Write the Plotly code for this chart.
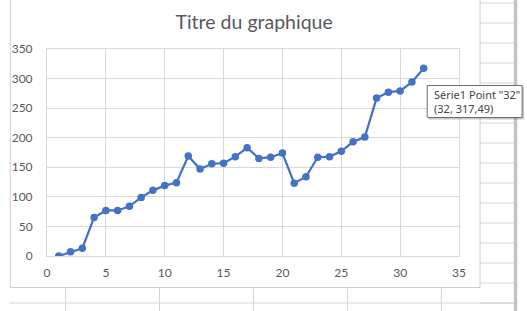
import plotly.graph_objects as go

# data
x_values = list(range(1, 33))
y_values = [0, 7, 13, 65, 77, 77, 84, 99, 111, 119, 124, 169, 147, 156, 157, 168,
            183, 165, 167, 174, 123, 134, 167, 168, 177, 193, 201, 267, 277, 279, 294, 317.49]
series_name = "Série1"
title_text = "Titre du graphique"
tooltip_lines = ['Série1 Point "32"', "(32, 317,49)"]

W, H = 527, 311
L, R, T, B = 38, 68, 49, 55
PW, PH = W - L - R, H - T - B


def px(xp):
    return (xp - L) / PW


def py(yp):
    return (H - B - yp) / PH


SHEET = "#d4d4d4"
shapes = []
# spreadsheet gridlines (right column rows)
for yy in range(3, 311, 20):
    shapes.append(dict(type="line", xref="paper", yref="paper", x0=px(480), x1=px(515),
                       y0=py(yy), y1=py(yy), line=dict(color=SHEET, width=1), layer="below"))
# below chart
shapes.append(dict(type="line", xref="paper", yref="paper", x0=px(0), x1=px(515),
                   y0=py(303), y1=py(303), line=dict(color=SHEET, width=1), layer="below"))
for xx in [57, 153, 249, 345, 441]:
    shapes.append(dict(type="line", xref="paper", yref="paper", x0=px(xx), x1=px(xx),
                       y0=py(287), y1=py(311), line=dict(color=SHEET, width=1), layer="below"))
# thick separator at right
shapes.append(dict(type="rect", xref="paper", yref="paper", x0=px(515), x1=px(518.5),
                   y0=py(0), y1=py(311), fillcolor="#c3c3c3", line=dict(width=0), layer="below"))
# chart box
shapes.append(dict(type="rect", xref="paper", yref="paper", x0=px(0.5), x1=px(480.5),
                   y0=py(-2), y1=py(287.5), fillcolor="white",
                   line=dict(color="#d0d0d0", width=1), layer="below"))
# tooltip shadow and box
shapes.append(dict(type="rect", xref="paper", yref="paper", x0=px(428), x1=px(525.5),
                   y0=py(87), y1=py(119.5), fillcolor="rgba(0,0,0,0.22)",
                   line=dict(width=0), layer="above"))
shapes.append(dict(type="rect", xref="paper", yref="paper", x0=px(426.5), x1=px(523.5),
                   y0=py(85.5), y1=py(117.5), fillcolor="white",
                   line=dict(color="#6e6e6e", width=1), layer="above"))

fig = go.Figure()
fig.add_trace(go.Scatter(
    x=x_values, y=y_values, mode="lines+markers", name=series_name,
    line=dict(color="#4472C4", width=2.25),
    marker=dict(symbol="circle", size=7.5, color="#4472C4"),
    hoverinfo="skip",
))

axis_font = dict(family="Lato, Liberation Sans, sans-serif", size=12, color="#595959")
fig.update_layout(
    width=W, height=H,
    margin=dict(l=L, r=R, t=T, b=B, pad=0),
    paper_bgcolor="white",
    plot_bgcolor="rgba(0,0,0,0)",
    showlegend=False,
    title=dict(text=title_text, x=px(241), xanchor="center", y=1 - 22.5 / H, yanchor="middle",
               font=dict(family="Lato, Liberation Sans, sans-serif", size=19.5, color="#595959")),
    xaxis=dict(range=[0, 35], dtick=5, tick0=0, showgrid=True, gridcolor="#d9d9d9", gridwidth=1,
               zeroline=False, showline=True, linecolor="#d9d9d9", mirror=True,
               ticks="", tickfont=axis_font, ticklabelstandoff=6, fixedrange=True),
    yaxis=dict(range=[0, 350], dtick=50, tick0=0, showgrid=True, gridcolor="#d9d9d9", gridwidth=1,
               zeroline=False, showline=True, linecolor="#d9d9d9", mirror=True,
               ticks="", tickfont=axis_font, ticklabelstandoff=11, fixedrange=True),
    shapes=shapes,
    annotations=[dict(
        xref="paper", yref="paper", x=px(431), y=py(101), xanchor="left", yanchor="middle",
        text="<br>".join(tooltip_lines), showarrow=False, align="left",
        font=dict(family="Noto Sans, Open Sans, sans-serif", size=11, color="#444444"),
    )],
)

fig.write_html("out.html")
